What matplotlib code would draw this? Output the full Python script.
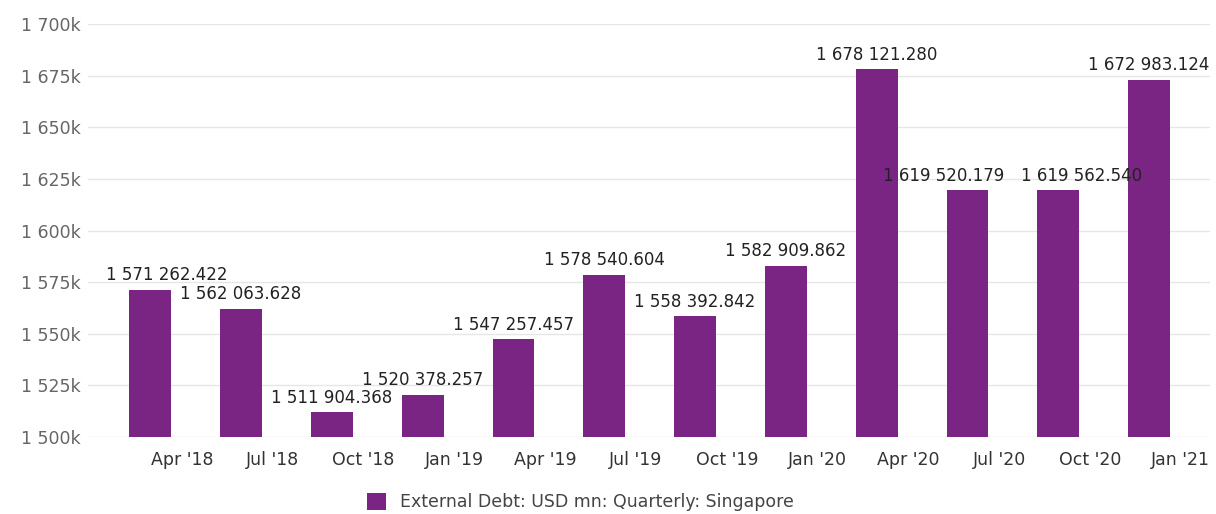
import matplotlib
matplotlib.use('Agg')
import matplotlib.pyplot as plt
from matplotlib.ticker import FuncFormatter

# Data (USD mn)
quarters = ["Apr '18", "Jul '18", "Oct '18", "Jan '19", "Apr '19", "Jul '19",
            "Oct '19", "Jan '20", "Apr '20", "Jul '20", "Oct '20", "Jan '21"]
debt = [1571262.422, 1562063.628, 1511904.368, 1520378.257, 1547257.457,
        1578540.604, 1558392.842, 1582909.862, 1678121.280, 1619520.179,
        1619562.540, 1672983.124]
series_name = 'External Debt: USD mn: Quarterly: Singapore'

bar_color = '#7a2583'

plt.rcParams['font.family'] = 'DejaVu Sans'

fig = plt.figure(figsize=(12.16, 5.14), dpi=100)
ax = fig.add_axes([0.072, 0.15, 0.923, 0.803])

positions = list(range(len(debt)))
ax.bar(positions, [v / 1000 for v in debt], width=0.46, color=bar_color,
       label=series_name, zorder=3)

# value labels above each bar (nudged sideways where they would collide)
nudge = {0: 12, 9: -17, 10: 17}
for i, (x, v) in enumerate(zip(positions, debt)):
    txt = f'{v:,.3f}'.replace(',', ' ')
    ax.annotate(txt, (x, v / 1000), xytext=(nudge.get(i, 0), 4),
                textcoords='offset points', ha='center', va='bottom',
                fontsize=12, color='#222222', zorder=4)

ax.set_ylim(1500, 1700)
ax.set_xlim(-0.69, 11.67)
ax.set_yticks(range(1500, 1701, 25))
ax.yaxis.set_major_formatter(FuncFormatter(
    lambda y, _: f'{int(y):,}k'.replace(',', ' ')))
ax.set_xticks([p + 0.35 for p in positions])
ax.set_xticklabels(quarters)

ax.grid(axis='y', color='#e6e6e6', linewidth=1, zorder=0)
for s in ax.spines.values():
    s.set_visible(False)
ax.tick_params(axis='both', length=0)
ax.tick_params(axis='y', labelsize=12.5, colors='#666666', pad=5)
ax.tick_params(axis='x', labelsize=12.5, colors='#333333', pad=10)

fig.legend(loc='center', bbox_to_anchor=(0.477, 0.023), frameon=False,
           fontsize=12.5, handlelength=1.1, handleheight=1.1,
           labelcolor='#444444')

fig.savefig('out.png', dpi=100)
